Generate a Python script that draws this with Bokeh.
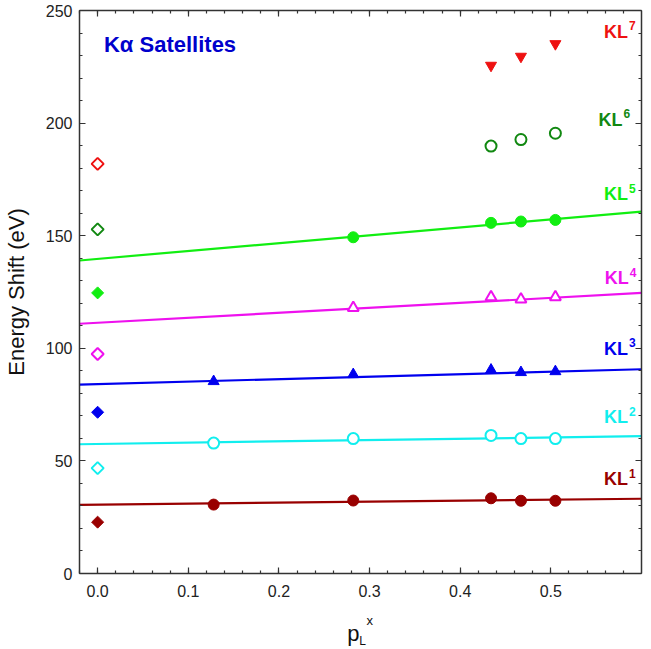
import numpy as np
from bokeh.plotting import figure
from bokeh.layouts import column
from bokeh.models import (LinearAxis, SingleIntervalTicker, PrintfTickFormatter,
                          Label, Range1d)
from bokeh.core.properties import value
from bokeh.embed import file_html
from bokeh.resources import INLINE

# ---------------- data ----------------
x_sat = [0.128, 0.282, 0.434, 0.467, 0.505]   # p_L^x of the measured targets
x_zero = [0.0]
fit_x = [-0.02, 0.6]

kl1_zero = [22.8]
kl1 = [30.6, 32.4, 33.4, 32.3, 32.3]
kl1_fit = [30.5, 33.2]

kl2_zero = [46.8]
kl2 = [57.9, 59.9, 61.3, 59.9, 59.9]
kl2_fit = [57.4, 61.0]

kl3_zero = [71.6]
kl3 = [85.3, 88.4, 90.4, 89.3, 89.7]
kl3_fit = [83.9, 90.7]

kl4_zero = [97.5]
kl4 = [118.0, 122.7, 121.7, 122.7]          # x_sat[1:]
kl4_fit = [110.9, 124.6]

kl5_zero = [124.6]
kl5 = [149.3, 155.7, 156.3, 157.0]          # x_sat[1:]
kl5_fit = [139.0, 160.7]

kl6_zero = [152.8]
kl6 = [189.8, 192.7, 195.5]                 # x_sat[2:]

kl7_zero = [181.9]
kl7 = [225.6, 229.6, 235.2]                 # x_sat[2:]

series_names = ["1", "2", "3", "4", "5", "6", "7"]
x_ticks_fmt = "%.1f"

# ---------------- styles ----------------
C1 = "#990000"
C2 = "#11EEEE"
C3 = "#0000EE"
C4 = "#EE11EE"
C5 = "#11EE11"
C6 = "#118811"
C7 = "#EE1111"
TITLE_C = "#0000CC"
FONT = "Liberation Sans"
AX_C = "#333333"

W = 651
H_LAB = 44          # strip below the chart that carries the x-axis title
H_MAIN = 649 - H_LAB

p = figure(width=W, height=H_MAIN, output_backend="svg", toolbar_location=None,
           x_range=Range1d(-0.02, 0.6), y_range=Range1d(0, 250),
           min_border_left=77, min_border_right=10, min_border_top=10,
           min_border_bottom=32)
p.outline_line_color = None
p.grid.visible = False
p.background_fill_color = "white"
p.border_fill_color = "white"


def style_axis(ax, show_labels):
    ax.axis_line_color = AX_C
    ax.axis_line_width = 1.5
    ax.major_tick_line_color = AX_C
    ax.minor_tick_line_color = AX_C
    ax.major_tick_line_width = 1.2
    ax.minor_tick_line_width = 1.2
    ax.major_tick_in = 6
    ax.major_tick_out = 0
    ax.minor_tick_in = 3
    ax.minor_tick_out = 0
    ax.major_label_text_font = FONT
    if show_labels:
        ax.major_label_text_font_size = "16px"
        ax.major_label_text_color = "#222222"
    else:
        ax.major_label_text_font_size = "1px"
        ax.major_label_text_color = None
        ax.major_label_standoff = 0


xa = p.xaxis[0]
xa.ticker = SingleIntervalTicker(interval=0.1, num_minor_ticks=5)
xa.formatter = PrintfTickFormatter(format=x_ticks_fmt)
style_axis(xa, True)
xa.major_label_standoff = 11

ya = p.yaxis[0]
ya.ticker = SingleIntervalTicker(interval=50, num_minor_ticks=5)
style_axis(ya, True)
ya.major_label_standoff = 7
ya.axis_label = "Energy Shift (eV)"
ya.axis_label_text_font = FONT
ya.axis_label_text_font_size = "22px"
ya.axis_label_text_font_style = "normal"
ya.axis_label_text_color = "#111111"
ya.axis_label_standoff = 14

top = LinearAxis(ticker=SingleIntervalTicker(interval=0.1, num_minor_ticks=5))
style_axis(top, False)
p.add_layout(top, "above")
right = LinearAxis(ticker=SingleIntervalTicker(interval=50, num_minor_ticks=5))
style_axis(right, False)
p.add_layout(right, "right")

# ---------------- fit lines ----------------
for fy, c in [(kl1_fit, C1), (kl2_fit, C2), (kl3_fit, C3), (kl4_fit, C4), (kl5_fit, C5)]:
    p.line(fit_x, fy, line_color=c, line_width=2.2)

# ---------------- zero-point diamonds ----------------
D = 8.5
ang = np.pi / 4
p.scatter(x_zero, kl1_zero, marker="square", angle=ang, size=D, fill_color=C1, line_color=C1)
p.scatter(x_zero, kl2_zero, marker="square", angle=ang, size=D, fill_color="white", line_color=C2, line_width=2)
p.scatter(x_zero, kl3_zero, marker="square", angle=ang, size=D, fill_color=C3, line_color=C3)
p.scatter(x_zero, kl4_zero, marker="square", angle=ang, size=D, fill_color="white", line_color=C4, line_width=2)
p.scatter(x_zero, kl5_zero, marker="square", angle=ang, size=D, fill_color=C5, line_color=C5)
p.scatter(x_zero, kl6_zero, marker="square", angle=ang, size=D, fill_color="white", line_color=C6, line_width=2)
p.scatter(x_zero, kl7_zero, marker="square", angle=ang, size=D, fill_color="white", line_color=C7, line_width=2)

# ---------------- satellite points ----------------
p.scatter(x_sat, kl1, marker="circle", size=11, fill_color=C1, line_color=C1)
p.scatter(x_sat, kl2, marker="circle", size=11, fill_color="white", line_color=C2, line_width=2)
p.scatter(x_sat, kl3, marker="triangle", size=11, fill_color=C3, line_color=C3)
p.scatter(x_sat[1:], kl4, marker="triangle", size=11, fill_color="white", line_color=C4, line_width=2)
p.scatter(x_sat[1:], kl5, marker="circle", size=11, fill_color=C5, line_color=C5)
p.scatter(x_sat[2:], kl6, marker="circle", size=11, fill_color="white", line_color=C6, line_width=2)
p.scatter(x_sat[2:], kl7, marker="inverted_triangle", size=11, fill_color=C7, line_color=C7)

# ---------------- series labels ----------------
lab_x = [0.585, 0.585, 0.585, 0.586, 0.585, 0.579, 0.585]
lab_y = [41.8, 69.3, 99.8, 131.2, 168.5, 201.4, 240.5]
lab_c = [C1, C2, C3, C4, C5, C6, C7]
for name, lx, ly, lc in zip(series_names, lab_x, lab_y, lab_c):
    p.add_layout(Label(x=lx, y=ly, text="KL", text_align="right", text_baseline="middle",
                       text_font=FONT, text_font_size="18px", text_font_style="bold",
                       text_color=lc))
    p.add_layout(Label(x=lx, y=ly, x_offset=1, y_offset=6, text=name, text_align="left",
                       text_baseline="middle", text_font=FONT, text_font_size="12px",
                       text_font_style="bold", text_color=lc))

# title
p.add_layout(Label(x=0.007, y=235.1, text="Kα Satellites", text_align="left",
                   text_baseline="middle", text_font=FONT, text_font_size="22px",
                   text_font_style="bold", text_color=TITLE_C))

# ---------------- x-axis title strip: p_L^x ----------------
q = figure(width=W, height=H_LAB, output_backend="svg", toolbar_location=None,
           x_range=p.x_range, y_range=Range1d(0, H_LAB),
           x_axis_type=None, y_axis_type=None,
           min_border_left=77, min_border_right=10, min_border_top=0,
           min_border_bottom=0)
q.outline_line_color = None
q.grid.visible = False
q.background_fill_color = "white"
q.border_fill_color = "white"

xlab_text = ["p", "L", "x"]
xlab_x = [0.2755, 0.2885, 0.2965]
xlab_y = [16, 9, 29]
xlab_size = ["22px", "12px", "13px"]
for t, tx, ty, ts in zip(xlab_text, xlab_x, xlab_y, xlab_size):
    q.text(x=[tx], y=[ty], text=[t], text_align="left", text_baseline="alphabetic",
           text_font=value(FONT), text_font_size=ts, text_color="#111111")

layout = column(p, q, spacing=0)
open("out.html", "w").write(file_html(layout, INLINE))
